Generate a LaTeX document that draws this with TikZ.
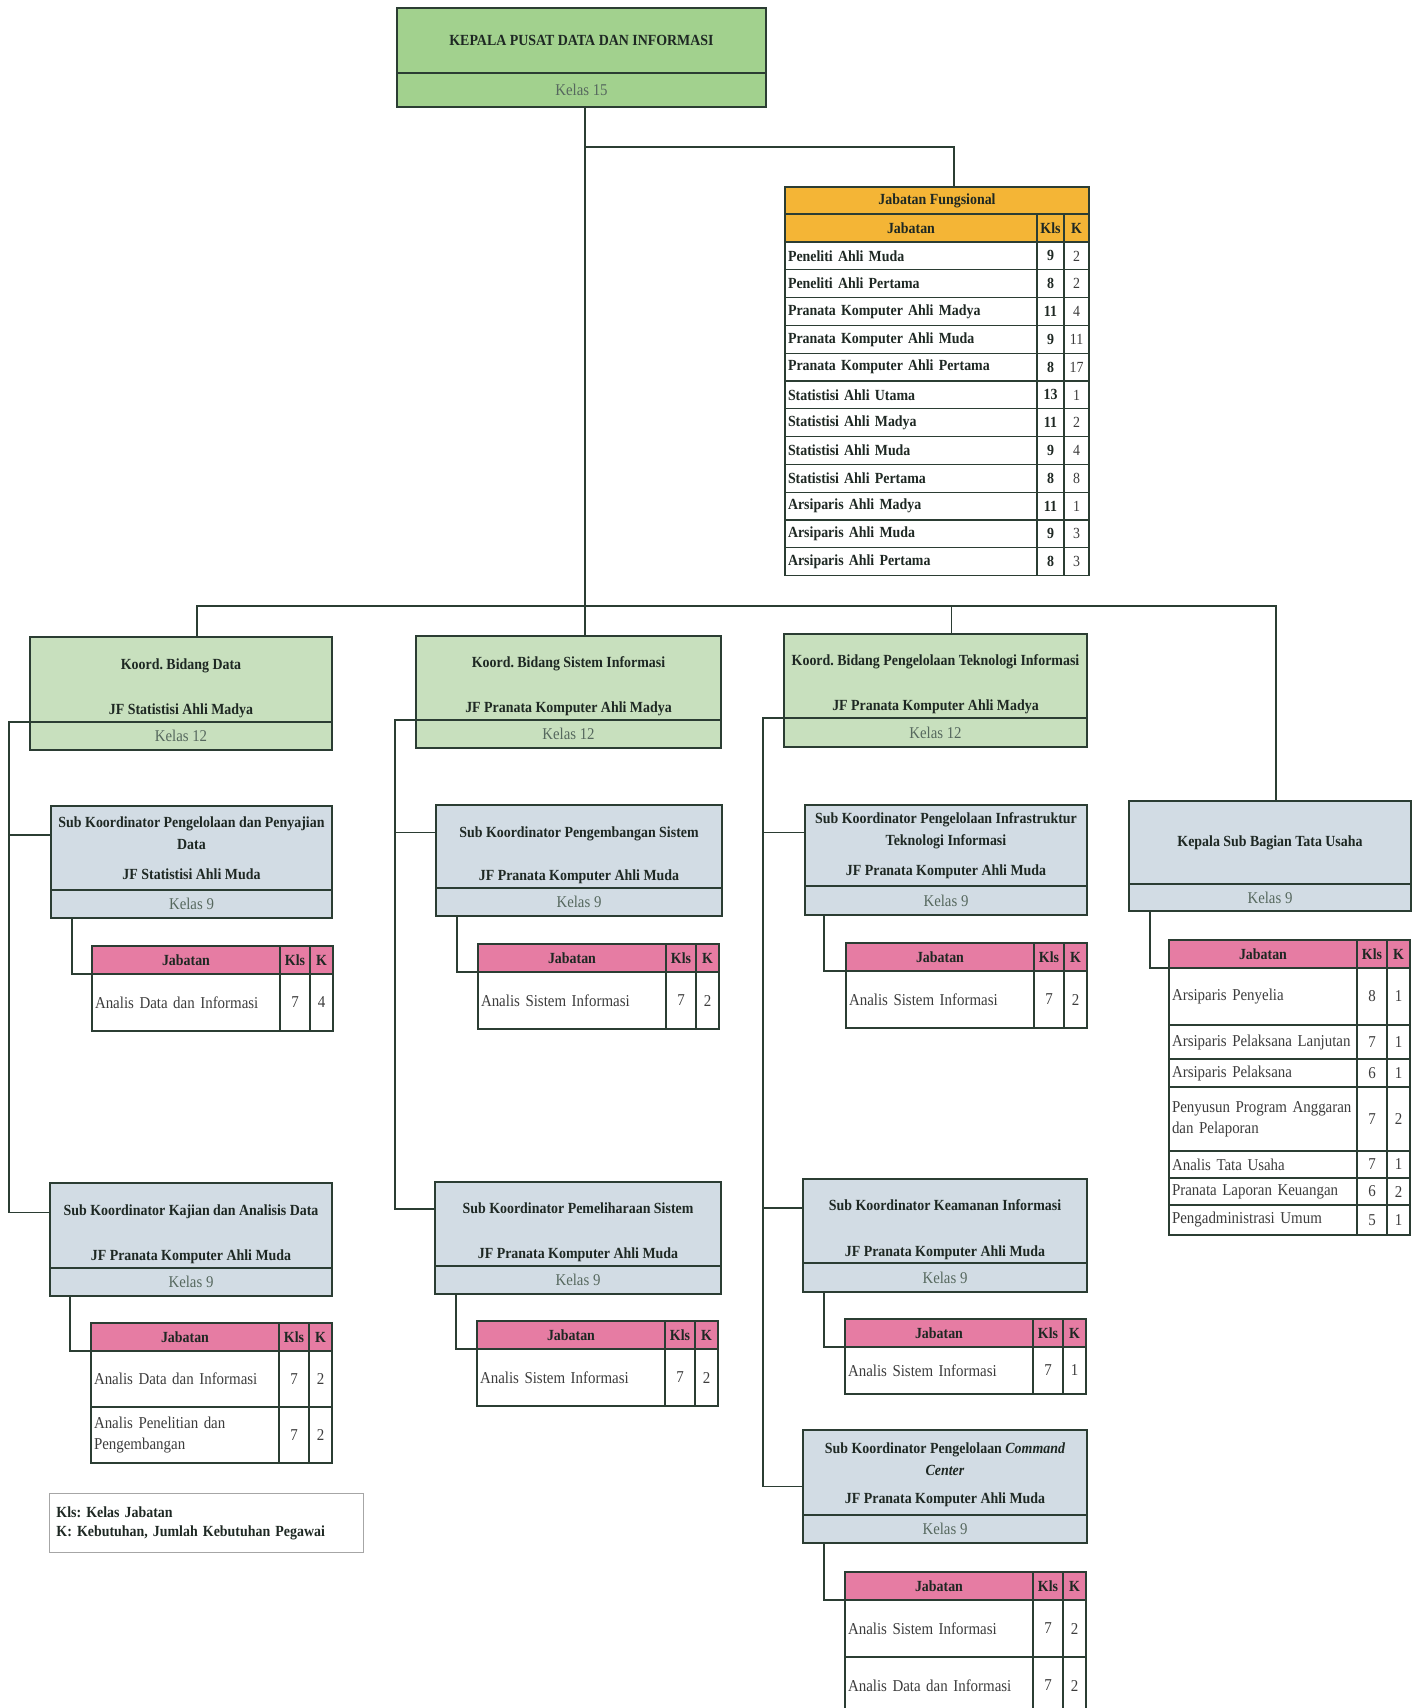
\documentclass[tikz,border=0pt]{standalone}
\usepackage{fontspec}
\setmainfont{Liberation Serif}[FakeStretch=0.9]
\usetikzlibrary{positioning}
\frenchspacing

\definecolor{edge}{HTML}{2B3D33}
\definecolor{ink}{HTML}{1E2823}
\definecolor{soft}{HTML}{56685E}
\definecolor{cell}{HTML}{3C3C3C}
\definecolor{topgreen}{HTML}{A2D18E}
\definecolor{koordgreen}{HTML}{C8E0BE}
\definecolor{subblue}{HTML}{D2DCE4}
\definecolor{pink}{HTML}{E67CA3}
\definecolor{amber}{HTML}{F4B536}

\newdimen\pxu
\pxu=0.25mm

% one row of a Jabatan table: id, cell above, height, jabatan, kls, k
\newcommand{\jrow}[6]{%
  \node [jname, minimum height=#3\pxu, below=0pt of #2] (#1) {#4};
  \node [jkls, minimum height=#3\pxu, right=0pt of #1] (#1l) {#5};
  \node [jk, minimum height=#3\pxu, right=0pt of #1l] (#1k) {#6};
}
% header of a Jabatan table: id, top left corner, fill
\newcommand{\jhead}[3]{%
  \node [jname, hdr, fill=#3, anchor=north west] (#1) at (#2) {Jabatan};
  \node [jkls, hdr, fill=#3, right=0pt of #1] (#1l) {Kls};
  \node [jk, hdr, fill=#3, right=0pt of #1l] (#1k) {K};
}

\begin{document}
\begin{tikzpicture}[x=0.25mm, y=-0.25mm,
    box/.style = {rectangle, draw=edge, line width=1.1pt, outer sep=0pt, inner sep=0pt, align=center, text=ink, font=\fontsize{11}{16}\selectfont\bfseries},
    headbox/.style = {box, fill=topgreen, anchor=north west},
    koord/.style = {box, fill=koordgreen, anchor=north west},
    sub/.style = {box, fill=subblue, anchor=north west},
    kelas/.style = {box, text=soft, font=\fontsize{11.7}{14}\selectfont},
    jcell/.style = {rectangle, draw=edge, line width=0.8pt, outer sep=0pt, inner sep=0pt, text=cell, font=\fontsize{11.8}{15}\selectfont},
    jname/.style = {jcell, inner xsep=3\pxu, text width=182\pxu, align=left},
    jkls/.style = {jcell, minimum width=30\pxu},
    jk/.style = {jcell, minimum width=23\pxu},
    hdr/.style = {minimum height=28\pxu, align=center, text=ink, font=\fontsize{11}{14}\selectfont\bfseries},
    line/.style = {draw=edge, line width=0.8pt},
    note/.style = {rectangle, draw=gray!70, line width=0.6pt, anchor=north west, inner xsep=7\pxu, text width=300\pxu, minimum height=59\pxu, align=left, text=ink, font=\fontsize{11}{13.5}\selectfont\bfseries}
]
    \useasboundingbox (0,0) rectangle (1421,1708);

    % Nodes - kepala dan koordinator
    \node [headbox, minimum width=369\pxu, minimum height=65\pxu] (kepala) at (397,8) {KEPALA PUSAT DATA DAN INFORMASI};
    \node [kelas, fill=topgreen, minimum width=369\pxu, minimum height=34\pxu, below=0pt of kepala] (kepalak) {Kelas 15};

    \node [koord, minimum width=302\pxu, minimum height=85\pxu] (data) at (30,637) {\rule{0pt}{20pt}Koord. Bidang Data\\[16pt]JF Statistisi Ahli Madya};
    \node [kelas, fill=koordgreen, minimum width=302\pxu, minimum height=28\pxu, below=0pt of data] (datak) {Kelas 12};
    \node [koord, minimum width=305\pxu, minimum height=84\pxu] (si) at (416,636) {\rule{0pt}{20pt}Koord. Bidang Sistem Informasi\\[16pt]JF Pranata Komputer Ahli Madya};
    \node [kelas, fill=koordgreen, minimum width=305\pxu, minimum height=28\pxu, below=0pt of si] (sik) {Kelas 12};
    \node [koord, minimum width=303\pxu, minimum height=84\pxu] (pti) at (784,634) {\rule{0pt}{20pt}Koord. Bidang Pengelolaan Teknologi Informasi\\[16pt]JF Pranata Komputer Ahli Madya};
    \node [kelas, fill=koordgreen, minimum width=303\pxu, minimum height=29\pxu, below=0pt of pti] (ptik) {Kelas 12};

    % Nodes - sub koordinator
    \node [sub, minimum width=281\pxu, minimum height=84\pxu] (ppd) at (51,806) {Sub Koordinator Pengelolaan dan Penyajian\\Data\\[5pt]JF Statistisi Ahli Muda};
    \node [kelas, fill=subblue, minimum width=281\pxu, minimum height=28\pxu, below=0pt of ppd] (ppdk) {Kelas 9};
    \node [sub, minimum width=286\pxu, minimum height=83\pxu] (ps) at (436,805) {\rule{0pt}{20pt}Sub Koordinator Pengembangan Sistem\\[15pt]JF Pranata Komputer Ahli Muda};
    \node [kelas, fill=subblue, minimum width=286\pxu, minimum height=28\pxu, below=0pt of ps] (psk) {Kelas 9};
    \node [sub, minimum width=282\pxu, minimum height=81\pxu] (piti) at (805,805) {Sub Koordinator Pengelolaan Infrastruktur\\Teknologi Informasi\\[5pt]JF Pranata Komputer Ahli Muda};
    \node [kelas, fill=subblue, minimum width=282\pxu, minimum height=29\pxu, below=0pt of piti] (pitik) {Kelas 9};
    \node [sub, minimum width=282\pxu, minimum height=83\pxu] (tu) at (1129,801) {Kepala Sub Bagian Tata Usaha};
    \node [kelas, fill=subblue, minimum width=282\pxu, minimum height=27\pxu, below=0pt of tu] (tuk) {Kelas 9};

    \node [sub, minimum width=282\pxu, minimum height=85\pxu] (kajian) at (50,1183) {\rule{0pt}{20pt}Sub Koordinator Kajian dan Analisis Data\\[16pt]JF Pranata Komputer Ahli Muda};
    \node [kelas, fill=subblue, minimum width=282\pxu, minimum height=28\pxu, below=0pt of kajian] (kajiank) {Kelas 9};
    \node [sub, minimum width=286\pxu, minimum height=84\pxu] (pemel) at (435,1182) {\rule{0pt}{20pt}Sub Koordinator Pemeliharaan Sistem\\[16pt]JF Pranata Komputer Ahli Muda};
    \node [kelas, fill=subblue, minimum width=286\pxu, minimum height=28\pxu, below=0pt of pemel] (pemelk) {Kelas 9};
    \node [sub, minimum width=284\pxu, minimum height=84\pxu] (aman) at (803,1179) {\rule{0pt}{20pt}Sub Koordinator Keamanan Informasi\\[17pt]JF Pranata Komputer Ahli Muda};
    \node [kelas, fill=subblue, minimum width=284\pxu, minimum height=29\pxu, below=0pt of aman] (amank) {Kelas 9};
    \node [sub, minimum width=284\pxu, minimum height=85\pxu] (cc) at (803,1430) {\rule{0pt}{11pt}Sub Koordinator Pengelolaan \textit{Command}\\[0pt]\textit{Center}\\[4pt]JF Pranata Komputer Ahli Muda};
    \node [kelas, fill=subblue, minimum width=284\pxu, minimum height=28\pxu, below=0pt of cc] (cck) {Kelas 9};

    % Nodes - tabel jabatan fungsional
    \begin{scope}[jname/.append style={text width=246\pxu, text=ink, font=\fontsize{11}{13}\selectfont\bfseries},
                  jkls/.append style={minimum width=27\pxu, text=ink, font=\fontsize{11}{13}\selectfont\bfseries},
                  jk/.append style={minimum width=25\pxu, font=\fontsize{11}{13}\selectfont}]
        \node [box, fill=amber, line width=0.8pt, anchor=north west, minimum width=304\pxu, minimum height=27\pxu, font=\fontsize{11}{13}\selectfont\bfseries] (jft) at (785,187) {Jabatan Fungsional};
        \jhead{jfh}{jft.south west}{amber}
        \jrow{jf1}{jfh}{27.8}{Peneliti Ahli Muda}{9}{2}
        \jrow{jf2}{jf1}{27.8}{Peneliti Ahli Pertama}{8}{2}
        \jrow{jf3}{jf2}{27.8}{Pranata Komputer Ahli Madya}{11}{4}
        \jrow{jf4}{jf3}{27.8}{Pranata Komputer Ahli Muda}{9}{11}
        \jrow{jf5}{jf4}{27.8}{Pranata Komputer Ahli Pertama}{8}{17}
        \jrow{jf6}{jf5}{27.8}{Statistisi Ahli Utama}{13}{1}
        \jrow{jf7}{jf6}{27.8}{Statistisi Ahli Madya}{11}{2}
        \jrow{jf8}{jf7}{27.8}{Statistisi Ahli Muda}{9}{4}
        \jrow{jf9}{jf8}{27.8}{Statistisi Ahli Pertama}{8}{8}
        \jrow{jf10}{jf9}{27.8}{Arsiparis Ahli Madya}{11}{1}
        \jrow{jf11}{jf10}{27.8}{Arsiparis Ahli Muda}{9}{3}
        \jrow{jf12}{jf11}{27.8}{Arsiparis Ahli Pertama}{8}{3}
    \end{scope}

    % Nodes - tabel jabatan per unit
    \jhead{t1h}{92,946}{pink}
    \jrow{t1a}{t1h}{57}{Analis Data dan Informasi}{7}{4}
    \jhead{t2h}{478,944}{pink}
    \jrow{t2a}{t2h}{57}{Analis Sistem Informasi}{7}{2}
    \jhead{t3h}{846,943}{pink}
    \jrow{t3a}{t3h}{57}{Analis Sistem Informasi}{7}{2}
    \jhead{t4h}{1169,940}{pink}
    \jrow{t4a}{t4h}{57}{Arsiparis Penyelia}{8}{1}
    \jrow{t4b}{t4a}{34}{Arsiparis Pelaksana Lanjutan}{7}{1}
    \jrow{t4c}{t4b}{28}{Arsiparis Pelaksana}{6}{1}
    \jrow{t4d}{t4c}{64}{Penyusun Program Anggaran\\dan Pelaporan}{7}{2}
    \jrow{t4e}{t4d}{27}{Analis Tata Usaha}{7}{1}
    \jrow{t4f}{t4e}{27}{Pranata Laporan Keuangan}{6}{2}
    \jrow{t4g}{t4f}{30}{Pengadministrasi Umum}{5}{1}
    \jhead{t5h}{91,1323}{pink}
    \jrow{t5a}{t5h}{56}{Analis Data dan Informasi}{7}{2}
    \jrow{t5b}{t5a}{56}{Analis Penelitian dan\\Pengembangan}{7}{2}
    \jhead{t6h}{477,1321}{pink}
    \jrow{t6a}{t6h}{57}{Analis Sistem Informasi}{7}{2}
    \jhead{t7h}{845,1319}{pink}
    \jrow{t7a}{t7h}{47}{Analis Sistem Informasi}{7}{1}
    \jhead{t8h}{845,1572}{pink}
    \jrow{t8a}{t8h}{57}{Analis Sistem Informasi}{7}{2}
    \jrow{t8b}{t8a}{57}{Analis Data dan Informasi}{7}{2}

    \node [note] (legend) at (49,1493) {Kls: Kelas Jabatan\\K: Kebutuhan, Jumlah Kebutuhan Pegawai};

    % Edges
    \coordinate (jfbr) at (585,147);
    \coordinate (bus) at (585,606);
    \path [line] (kepalak.south -| bus) -- (si.north -| bus);
    \path [line] (jfbr) -| ([xshift=17\pxu]jft.north);
    \path [line] ([xshift=16\pxu]data.north) |- (bus) -| ([xshift=6\pxu]tu.north);
    \path [line] ([xshift=16\pxu]pti.north) -- ([xshift=16\pxu]pti.north |- bus);

    \coordinate (rail1) at (9,722);
    \coordinate (rail2) at (395,720);
    \coordinate (rail3) at (763,718);
    \path [line] (data.south west) -- (rail1) |- ([yshift=13\pxu]kajian.west);
    \path [line] (rail1) |- ([yshift=13\pxu]ppd.west);
    \path [line] (si.south west) -- (rail2) |- ([yshift=15\pxu]pemel.west);
    \path [line] (rail2) |- ([yshift=14\pxu]ps.west);
    \path [line] (pti.south west) -- (rail3) |- ([yshift=-14\pxu]cc.west);
    \path [line] (rail3) |- ([yshift=13\pxu]piti.west);
    \path [line] (rail3) |- ([yshift=13\pxu]aman.west);

    \path [line] ([xshift=21\pxu]ppdk.south west) |- (t1h.south west);
    \path [line] ([xshift=21\pxu]psk.south west) |- (t2h.south west);
    \path [line] ([xshift=19\pxu]pitik.south west) |- (t3h.south west);
    \path [line] ([xshift=21\pxu]tuk.south west) |- (t4h.south west);
    \path [line] ([xshift=20\pxu]kajiank.south west) |- (t5h.south west);
    \path [line] ([xshift=21\pxu]pemelk.south west) |- (t6h.south west);
    \path [line] ([xshift=21\pxu]amank.south west) |- (t7h.south west);
    \path [line] ([xshift=21\pxu]cck.south west) |- (t8h.south west);

\end{tikzpicture}
\end{document}
